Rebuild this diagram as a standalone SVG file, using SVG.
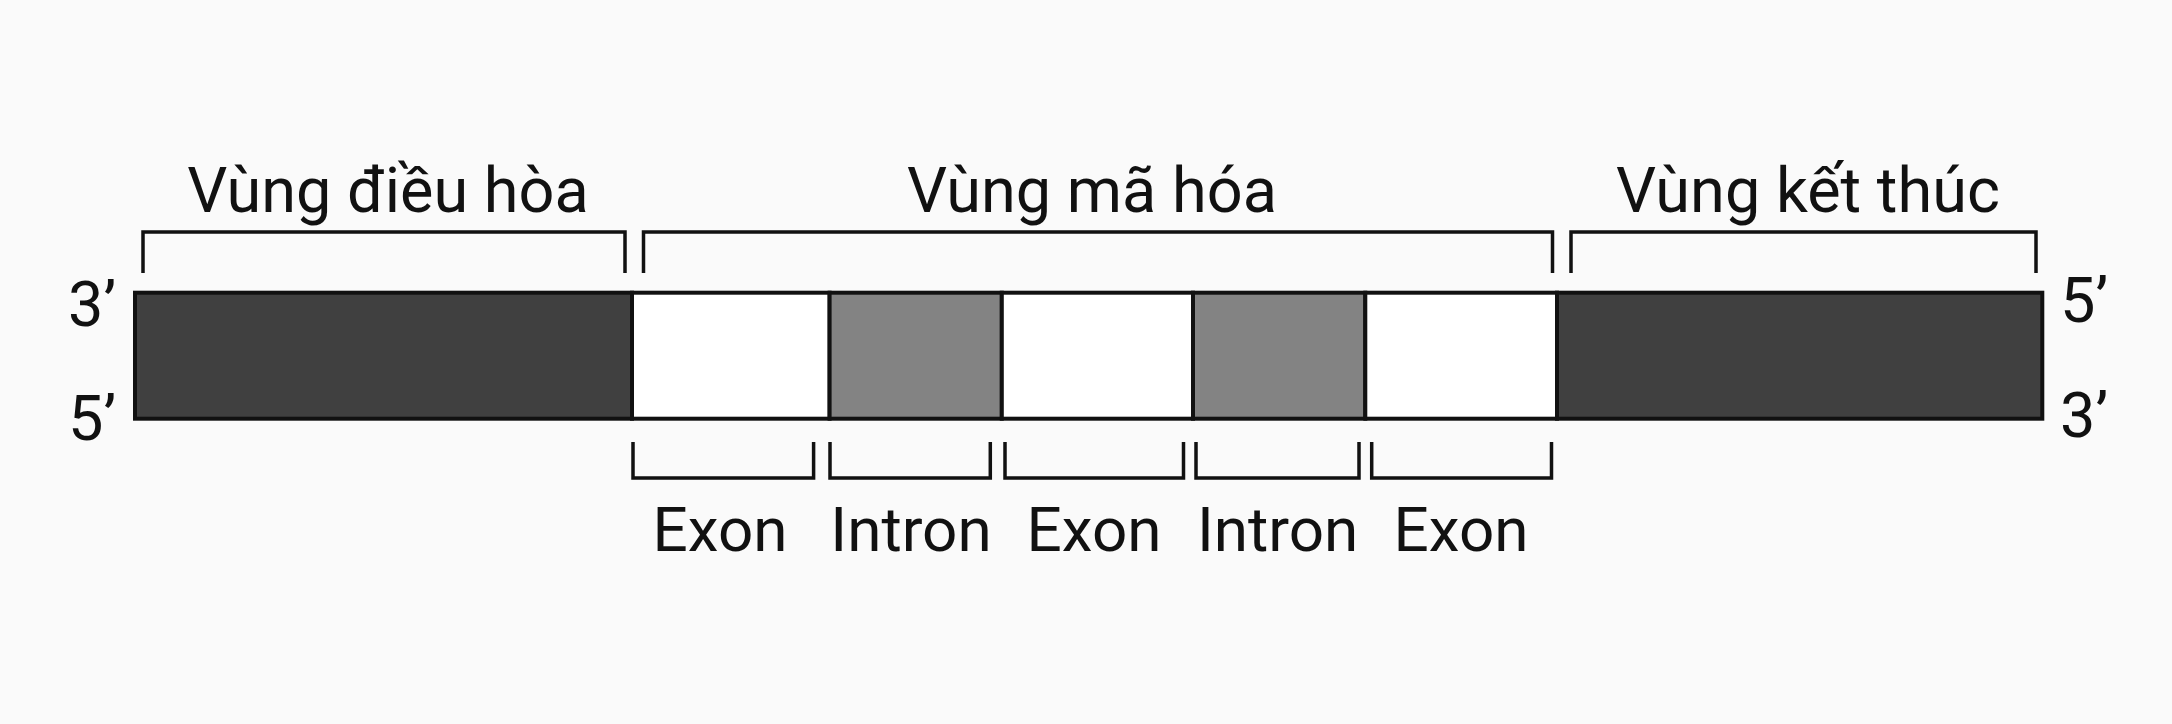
<svg xmlns="http://www.w3.org/2000/svg" width="2172" height="724" viewBox="0 0 2172 724">
<style>
.bg{fill:#fafafa}
.seg{stroke:#111;stroke-width:4}
.dark{fill:#404040}
.gray{fill:#838383}
.white{fill:#ffffff}
.br{fill:none;stroke:#111;stroke-width:3.5;stroke-linejoin:miter}
.title{font-family:Roboto,"Noto Sans",sans-serif;font-size:63px;fill:#111;text-anchor:middle}
.lab{font-family:Roboto,"Noto Sans",sans-serif;font-size:62px;fill:#111;text-anchor:middle}
.end{font-family:Roboto,"Noto Sans",sans-serif;font-size:63px;fill:#111}
</style>
<rect class="bg" x="0" y="0" width="2172" height="724"/>
<g id="bar">
  <rect id="reg-dieu-hoa" class="seg dark" x="135" y="292.7" width="497" height="126"/>
  <rect id="exon1" class="seg white" x="632" y="292.7" width="197.6" height="126"/>
  <rect id="intron1" class="seg gray" x="829.6" y="292.7" width="172.2" height="126"/>
  <rect id="exon2" class="seg white" x="1001.8" y="292.7" width="191.2" height="126"/>
  <rect id="intron2" class="seg gray" x="1193" y="292.7" width="172.3" height="126"/>
  <rect id="exon3" class="seg white" x="1365.3" y="292.7" width="191.7" height="126"/>
  <rect id="reg-ket-thuc" class="seg dark" x="1557" y="292.7" width="485.3" height="126"/>
</g>
<g id="ends">
  <text class="end" x="68" y="326">3’</text>
  <text class="end" x="68" y="440">5’</text>
  <text class="end" x="2060" y="322">5’</text>
  <text class="end" x="2060" y="437">3’</text>
</g>
<g id="connectors">
  <path class="br" d="M143,273 V232 H625 V273"/>
  <path class="br" d="M643.5,273 V232 H1552.5 V273"/>
  <path class="br" d="M1571,273 V232 H2036 V273"/>
  <path class="br" d="M633,442 V478 H813.6 V442"/>
  <path class="br" d="M830,442 V478 H990.3 V442"/>
  <path class="br" d="M1005,442 V478 H1183.5 V442"/>
  <path class="br" d="M1196,442 V478 H1359 V442"/>
  <path class="br" d="M1371.7,442 V478 H1551.5 V442"/>
</g>
<g id="titles">
  <text class="title" x="388" y="211.5">Vùng điều hòa</text>
  <text class="title" x="1092" y="211.5">Vùng mã hóa</text>
  <text class="title" x="1808" y="211.5">Vùng kết thúc</text>
</g>
<g id="labels">
  <text class="lab" x="720" y="551">Exon</text>
  <text class="lab" x="911" y="551">Intron</text>
  <text class="lab" x="1094" y="551">Exon</text>
  <text class="lab" x="1277.6" y="551">Intron</text>
  <text class="lab" x="1461" y="551">Exon</text>
</g>
</svg>
